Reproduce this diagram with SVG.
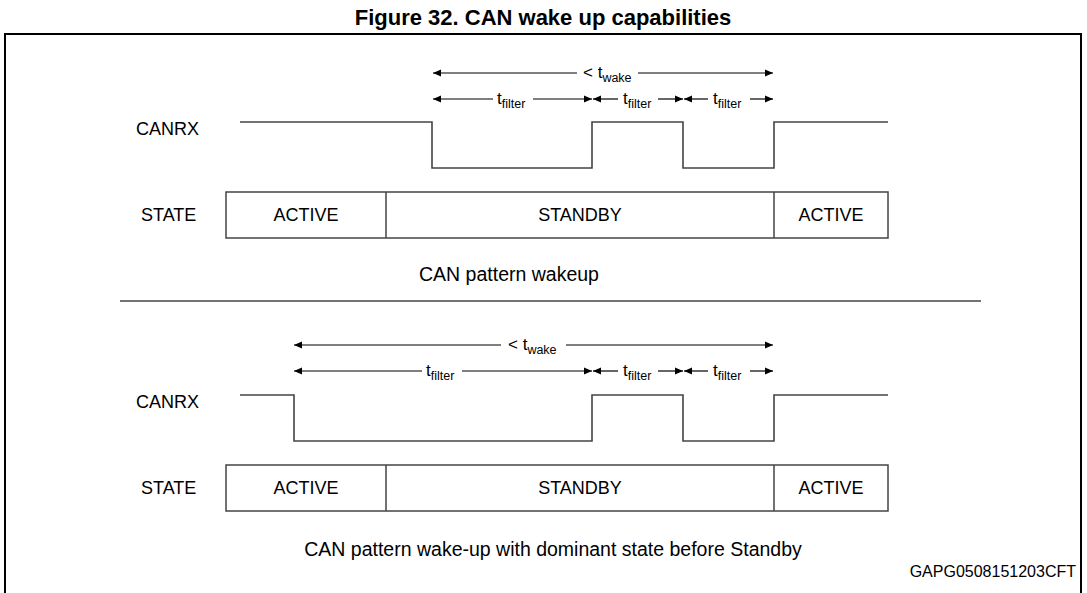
<svg xmlns="http://www.w3.org/2000/svg" width="1087" height="593" viewBox="0 0 1087 593">
<defs>
<marker id="ah" markerUnits="userSpaceOnUse" markerWidth="9" markerHeight="9" refX="8" refY="4" orient="auto-start-reverse"><path d="M0,0.5 L8,4 L0,7.5 z" fill="#000"/></marker>
<style>
text{font-family:"Liberation Sans",Arial,sans-serif;fill:#000}
.lbl{font-size:18px}
.t{font-size:17px}
.sub{font-size:12.5px}
.cap{font-size:19.5px}
.dl{stroke:#000;stroke-width:1.2;fill:none;marker-start:url(#ah)}
.dr{stroke:#000;stroke-width:1.2;fill:none;marker-end:url(#ah)}
.sig{stroke:#444;stroke-width:1.6;fill:none}
.box{stroke:#444;stroke-width:1.5;fill:#fff}
</style>
</defs>
<rect width="1087" height="593" fill="#fff"/>
<text x="543" y="25" text-anchor="middle" style="font-size:22px;font-weight:bold">Figure 32. CAN wake up capabilities</text>
<path d="M5,600 V34 H1081 V600" fill="none" stroke="#000" stroke-width="2"/>

<g id="panel1">
<g id="p1-canrx"><text class="lbl" x="136" y="135">CANRX</text>
<path class="sig" d="M240,122 H432 V168 H592 V122 H683 V168 H774 V122 H888"/></g>
<g id="p1-state"><text class="lbl" x="141" y="221">STATE</text>
<rect class="box" x="226" y="192" width="662" height="46"/>
<path class="box" d="M386,192 V238 M774,192 V238"/>
<text class="lbl" x="306" y="221" text-anchor="middle">ACTIVE</text>
<text class="lbl" x="580" y="221" text-anchor="middle">STANDBY</text>
<text class="lbl" x="831" y="221" text-anchor="middle">ACTIVE</text></g>
<text class="cap" x="509" y="281" text-anchor="middle">CAN pattern wakeup</text>
</g>

<g id="connectors">
<line class="dl" x1="433" y1="73" x2="577" y2="73"/>
<line class="dr" x1="638" y1="73" x2="773" y2="73"/>
<line class="dl" x1="433" y1="99" x2="493" y2="99"/>
<line class="dr" x1="533" y1="99" x2="592" y2="99"/>
<line class="dl" x1="593" y1="99" x2="618" y2="99"/>
<line class="dr" x1="658" y1="99" x2="683" y2="99"/>
<line class="dl" x1="684" y1="99" x2="708" y2="99"/>
<line class="dr" x1="750" y1="99" x2="773" y2="99"/>

<line class="dl" x1="294" y1="345" x2="501" y2="345"/>
<line class="dr" x1="566" y1="345" x2="773" y2="345"/>
<line class="dl" x1="294" y1="371" x2="422" y2="371"/>
<line class="dr" x1="462" y1="371" x2="592" y2="371"/>
<line class="dl" x1="593" y1="371" x2="618" y2="371"/>
<line class="dr" x1="658" y1="371" x2="683" y2="371"/>
<line class="dl" x1="684" y1="371" x2="708" y2="371"/>
<line class="dr" x1="750" y1="371" x2="773" y2="371"/>
<line x1="120" y1="301" x2="981" y2="301" stroke="#444" stroke-width="1.3"/>
</g>

<g id="dim-labels">
<text class="t" x="583" y="78">&lt; t<tspan class="sub" dy="4">wake</tspan></text>
<text class="t" x="497" y="104">t<tspan class="sub" dy="4">filter</tspan></text>
<text class="t" x="623" y="104">t<tspan class="sub" dy="4">filter</tspan></text>
<text class="t" x="713" y="104">t<tspan class="sub" dy="4">filter</tspan></text>
<text class="t" x="508" y="350">&lt; t<tspan class="sub" dy="4">wake</tspan></text>
<text class="t" x="426" y="376">t<tspan class="sub" dy="4">filter</tspan></text>
<text class="t" x="623" y="376">t<tspan class="sub" dy="4">filter</tspan></text>
<text class="t" x="713" y="376">t<tspan class="sub" dy="4">filter</tspan></text>
</g>

<g id="panel2">
<g id="p2-canrx"><text class="lbl" x="136" y="408">CANRX</text>
<path class="sig" d="M240,395 H294 V441 H592 V395 H683 V441 H774 V395 H888"/></g>
<g id="p2-state"><text class="lbl" x="141" y="494">STATE</text>
<rect class="box" x="226" y="465" width="662" height="46"/>
<path class="box" d="M386,465 V511 M774,465 V511"/>
<text class="lbl" x="306" y="494" text-anchor="middle">ACTIVE</text>
<text class="lbl" x="580" y="494" text-anchor="middle">STANDBY</text>
<text class="lbl" x="831" y="494" text-anchor="middle">ACTIVE</text></g>
<text class="cap" x="553" y="556" text-anchor="middle">CAN pattern wake-up with dominant state before Standby</text>
<text x="1076" y="577" text-anchor="end" style="font-size:16px">GAPG0508151203CFT</text>
</g>
</svg>
